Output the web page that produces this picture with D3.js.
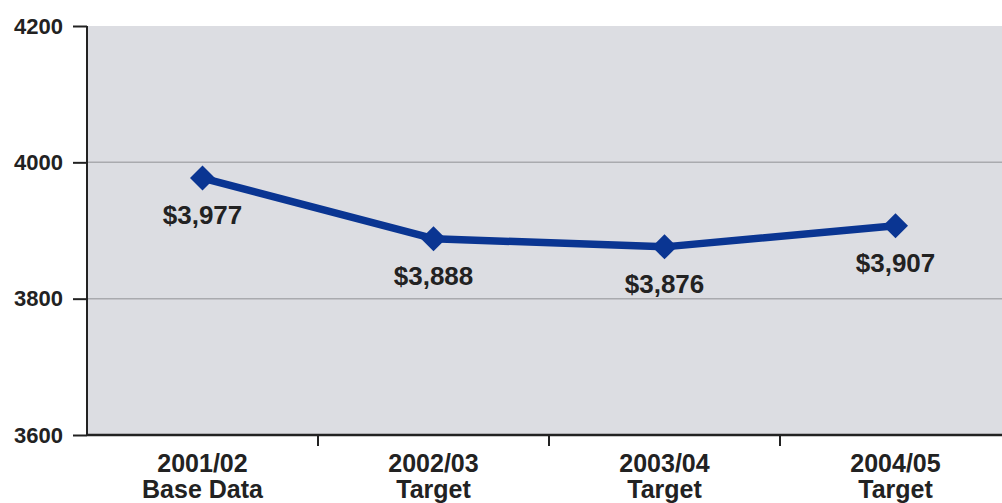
<!DOCTYPE html>
<html>
<head>
<meta charset="utf-8">
<script src="https://cdn.jsdelivr.net/npm/d3@7"></script>
<style>
  body { margin: 0; background: #fff; }
  text { font-family: "Liberation Sans", Arial, sans-serif; font-weight: bold; fill: #222; }
</style>
</head>
<body>
<svg id="chart" width="1002" height="503"></svg>
<script>
// chart data
const categories = ["2001/02|Base Data", "2002/03|Target", "2003/04|Target", "2004/05|Target"];
const values = [3977, 3888, 3876, 3907];
const valueLabels = ["$3,977", "$3,888", "$3,876", "$3,907"];
const yTicks = [3600, 3800, 4000, 4200];

const svg = d3.select('#chart');
const plotLeft = 87, plotTop = 26, plotRight = 1011, plotBottom = 435;

const x = d3.scaleBand().domain(categories).range([plotLeft, plotRight]);
const y = d3.scaleLinear().domain([3600, 4200]).range([plotBottom, plotTop]);

// plot background
svg.append('rect')
    .attr('x', plotLeft).attr('y', plotTop)
    .attr('width', plotRight - plotLeft).attr('height', plotBottom - plotTop)
    .style('fill', '#dcdde2');

// gridlines
svg.append('g')
    .selectAll('line')
    .data(yTicks.filter(t => t > 3600 && t < 4200))
    .enter()
    .append('line')
        .attr('x1', plotLeft).attr('x2', plotRight)
        .attr('y1', d => y(d)).attr('y2', d => y(d))
        .style('stroke', '#a9aaae')
        .style('stroke-width', 1.5);

// y axis
const yAxis = svg.append('g')
    .attr('transform', `translate(${plotLeft},0)`)
    .call(d3.axisLeft(y).tickValues(yTicks).tickFormat(d3.format('d')).tickSize(14).tickPadding(10));
yAxis.attr('font-size', null).attr('font-family', null);
yAxis.select('.domain').attr('d', `M0,${plotTop}V${plotBottom}`).style('stroke', '#222').style('stroke-width', 2);
yAxis.selectAll('.tick line').style('stroke', '#222').style('stroke-width', 2);
yAxis.selectAll('.tick text').style('font-size', '22px').style('fill', '#222');

// x axis
const xAxis = svg.append('g')
    .attr('transform', `translate(0,${plotBottom})`)
    .call(d3.axisBottom(x).tickSize(0).tickFormat(''));
xAxis.select('.domain').attr('d', `M${plotLeft},0H${plotRight}`).style('stroke', '#222').style('stroke-width', 2.5);
xAxis.selectAll('.tick').remove();

// tick marks between categories
xAxis.append('g')
    .selectAll('line')
    .data(categories.slice(1))
    .enter()
    .append('line')
        .attr('x1', d => x(d)).attr('x2', d => x(d))
        .attr('y1', 0).attr('y2', 11)
        .style('stroke', '#222')
        .style('stroke-width', 2);

// category labels
svg.append('g')
    .selectAll('text')
    .data(categories)
    .enter()
    .append('text')
        .attr('text-anchor', 'middle')
        .style('font-size', '25px')
    .each(function(d) {
        const mid = x(d) + x.bandwidth() / 2;
        d.split('|').forEach((p, i) => {
            d3.select(this).append('tspan')
                .attr('x', mid)
                .attr('y', 471.5 + i * 26.5)
                .text(p);
        });
    });

const cx = (d, i) => x(categories[i]) + x.bandwidth() / 2;

// line
svg.append('path')
    .datum(values)
    .attr('d', d3.line().x((d, i) => cx(d, i)).y(d => y(d)))
    .style('fill', 'none')
    .style('stroke', '#0a3592')
    .style('stroke-width', 7.5)
    .style('stroke-linejoin', 'round');

// diamond markers
svg.append('g')
    .selectAll('path')
    .data(values)
    .enter()
    .append('path')
        .attr('transform', (d, i) => `translate(${cx(d, i)},${y(d)})`)
        .attr('d', 'M0,-12.5L12.5,0L0,12.5L-12.5,0Z')
        .style('fill', '#0a3592');

// value labels
svg.append('g')
    .selectAll('text')
    .data(values)
    .enter()
    .append('text')
        .attr('x', (d, i) => cx(d, i))
        .attr('y', d => y(d) + 46)
        .attr('text-anchor', 'middle')
        .style('font-size', '26px')
        .text((d, i) => valueLabels[i]);
</script>
</body>
</html>
